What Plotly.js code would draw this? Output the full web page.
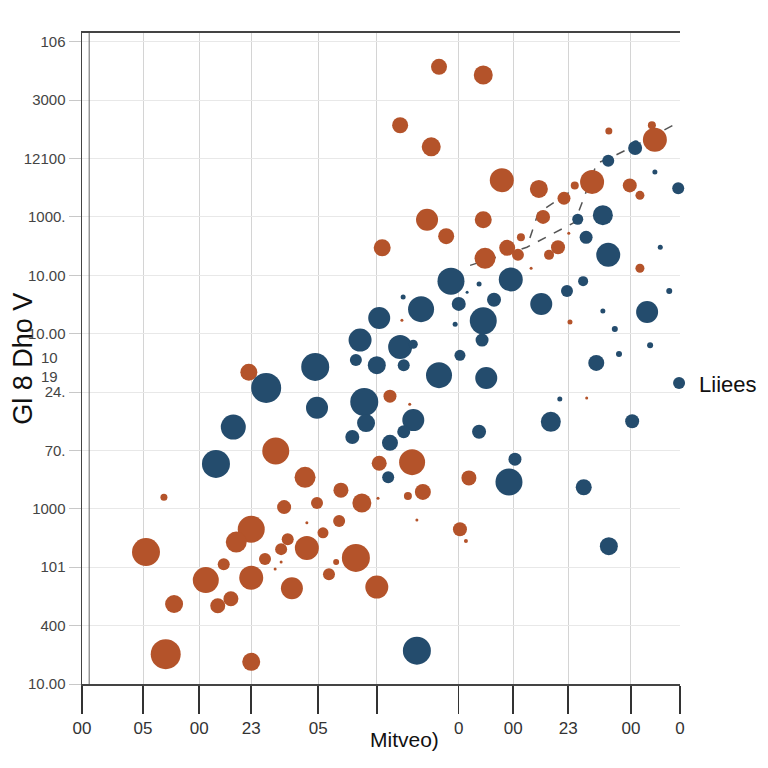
<!DOCTYPE html>
<html>
<head>
<meta charset="utf-8">
<script src="https://cdn.plot.ly/plotly-3.0.1.min.js"></script>
<style>
  body { margin: 0; background: #fff; }
  #chart { width: 768px; height: 768px; }
</style>
</head>
<body>
<div id="chart"></div>
<script>
// bubble chart, two groups + dashed trend

// orange group
var orangeX = [59.7, 67.1, 53.2, 58.4, 70.2, 76.4, 85.3, 95.8, 95.3, 88.1, 91.6, 93.3, 82.4, 77.1, 73.4, 71.1, 72.9, 78.1, 75.1, 81.6,
               93.3, 84.4, 57.7, 67.1, 60.9, 50.2, 67.4, 53.5, 27.9, 51.5, 54.8, 32.4, 37.3, 49.7, 55.2, 43.3, 39.3, 33.8, 46.8, 13.7,
               54.5, 57.0, 64.7, 49.5, 56.0, 37.6, 43.0, 28.3, 25.8, 34.4, 33.3, 40.3, 37.6, 45.8, 63.2, 64.2, 10.7, 23.7, 30.6, 33.3,
               32.3, 42.5, 20.7, 28.3, 41.3, 35.1, 49.3, 15.4, 24.9, 22.7, 14.0, 28.3, 80.6, 79.6, 81.4];
var orangeY = [10.57, 10.43, 9.57, 9.20, 8.63, 8.48, 8.60, 9.32, 9.57, 9.47, 8.54, 8.37, 8.54, 8.00, 7.65, 7.47, 7.35, 7.35, 7.12, 6.20,
               7.12, 4.90, 7.95, 7.95, 7.67, 7.47, 7.29, 6.23, 5.34, 4.93, 4.79, 3.99, 3.54, 3.78, 3.80, 3.32, 3.10, 3.03, 3.10, 3.20,
               3.22, 3.29, 3.53, 3.18, 2.81, 2.76, 2.79, 2.65, 2.43, 2.48, 2.31, 2.59, 2.33, 2.16, 2.65, 2.45, 2.26, 2.05, 2.14, 2.09,
               1.97, 2.09, 1.78, 1.82, 1.88, 1.64, 1.66, 1.37, 1.46, 1.34, 0.51, 0.38, 8.32, 7.48, 7.72];
var orangeSize = [16, 19, 16, 19, 24, 18, 24, 24, 8, 7, 14, 9, 8, 14, 8, 16, 12, 10, 3, 5,
                  9, 3, 22, 17, 16, 17, 21, 3, 17, 13, 3, 27, 21, 15, 26, 15, 12, 14, 19, 7,
                  8, 16, 15, 3, 3, 3, 12, 27, 21, 12, 12, 11, 24, 28, 14, 4, 28, 12, 12, 3,
                  3, 6, 26, 24, 12, 22, 23, 18, 15, 15, 30, 18, 13, 14, 3];

// navy group
var navyX = [100.5, 92.5, 92.6, 104.7, 101.3, 95.8, 99.7, 88.0, 87.1, 82.9, 84.3, 88.0, 96.7, 71.7, 76.8, 83.8, 81.1, 98.2, 87.1, 94.5,
             89.1, 95.0, 89.8, 86.0, 79.9, 78.4, 92.0, 66.4, 72.4, 71.4, 83.9, 88.1, 56.0, 39.0, 30.8, 25.3, 22.4, 39.3, 47.2, 47.5,
             45.2, 51.5, 51.2, 55.4, 53.8, 45.8, 49.3, 53.8, 59.7, 67.6, 63.2, 53.2, 61.7, 66.4, 64.4, 63.0, 67.1, 66.9, 56.7, 53.7,
             49.7, 46.5, 55.4, 62.4, 68.9];
var navyY = [9.64, 9.18, 9.26, 8.82, 8.89, 8.77, 8.49, 8.96, 8.03, 7.96, 7.65, 7.35, 7.48, 6.93, 6.51, 6.90, 6.73, 6.73, 6.39, 6.37,
             6.08, 5.80, 5.65, 5.50, 4.88, 4.49, 4.50, 4.32, 3.85, 3.46, 3.37, 2.36, 0.57, 5.43, 5.07, 4.40, 3.77, 4.73, 4.83, 4.47,
             4.23, 4.13, 3.54, 4.52, 4.32, 5.55, 5.46, 5.46, 5.29, 5.24, 5.63, 5.77, 6.90, 6.85, 6.71, 6.51, 6.22, 5.89, 6.42, 6.63,
             6.27, 5.89, 5.82, 6.16, 6.58];
var navySize = [15, 14, 6, 28, 10, 5, 12, 12, 20, 11, 13, 24, 5, 24, 22, 10, 12, 6, 5, 22,
                6, 6, 6, 16, 5, 20, 14, 14, 13, 27, 16, 18, 28, 28, 30, 25, 28, 22, 28, 18,
                14, 16, 12, 22, 13, 12, 18, 12, 26, 22, 11, 24, 27, 5, 3, 14, 27, 13, 26, 5,
                22, 23, 9, 5, 14];

// dashed trend (null splits the two pieces)
var trendX = [64.9, 68.7, 74.4, 82.4, 84.1, 86.1, 88.3, 92.6, 100.5, null, 74.9, 76.3, 81.9];
var trendY = [7.17, 7.29, 7.48, 7.91, 8.37, 8.92, 9.01, 9.23, 9.66, null, 7.64, 8.07, 8.45];

var xTickVals = [0, 10.2, 19.6, 28.3, 39.5, 49.3, 63.0, 72.1, 81.3, 91.8, 100];
var xTickText = ['00', '05', '00', '23', '05', '', '0', '00', '23', '00', '0'];
var yTickVals = [0, 1, 2, 3, 4, 5, 6, 7, 8, 9, 10, 11];
var yTickText = ['10.00', '400', '101', '1000', '70.', '24.', '10.00', '10.00', '1000.', '12100', '3000', '106'];

var orange = '#b4532a';
var navy = '#244c6d';

var traces = [
  {
    x: trendX, y: trendY, type: 'scatter', mode: 'lines',
    line: {color: '#555', width: 1.5, dash: 'dash'},
    showlegend: false, hoverinfo: 'skip', cliponaxis: false
  },
  {
    x: orangeX, y: orangeY, type: 'scatter', mode: 'markers',
    marker: {color: orange, size: orangeSize, sizemode: 'diameter', opacity: 1, line: {width: 0}},
    showlegend: false, cliponaxis: false
  },
  {
    x: navyX, y: navyY, type: 'scatter', mode: 'markers', name: 'Liiees',
    marker: {color: navy, size: navySize, sizemode: 'diameter', opacity: 1, line: {width: 0}},
    cliponaxis: false
  }
];

var layout = {
  width: 768, height: 768,
  margin: {l: 82, r: 88, t: 33, b: 84, autoexpand: false},
  paper_bgcolor: '#fff', plot_bgcolor: '#fff',
  font: {family: 'Liberation Sans, Arial, sans-serif', color: '#333'},
  showlegend: true,
  legend: {
    x: 0.965, y: 0.462, xanchor: 'left', yanchor: 'middle',
    bgcolor: 'rgba(0,0,0,0)', itemsizing: 'constant',
    font: {size: 22, color: '#111'}
  },
  xaxis: {
    range: [0, 100], tickmode: 'array', tickvals: xTickVals, ticktext: xTickText,
    showgrid: true, gridcolor: '#d4d4d4', gridwidth: 1,
    zeroline: false, showline: true, linecolor: '#444', linewidth: 2, mirror: true,
    ticks: 'outside', ticklen: 28, tickcolor: '#333', tickwidth: 1.5,
    tickfont: {size: 17, color: '#333'}
  },
  yaxis: {
    range: [0, 11.15], tickmode: 'array', tickvals: yTickVals, ticktext: yTickText,
    showgrid: true, gridcolor: '#e8e8e8', gridwidth: 1,
    zeroline: false, showline: true, linecolor: '#444', linewidth: 1.5,
    ticks: 'outside', ticklen: 12, tickcolor: '#c8c8c8',
    tickfont: {size: 15, color: '#444'}
  },
  shapes: [
    {type: 'line', xref: 'paper', yref: 'paper', x0: 0.012, x1: 0.012, y0: 0, y1: 1,
     line: {color: '#666', width: 1}}
  ],
  annotations: [
    {text: 'Gl 8 Dho V', xref: 'paper', yref: 'paper', x: -0.1, y: 0.5, xanchor: 'center', yanchor: 'middle',
     showarrow: false, textangle: -90, font: {size: 27, color: '#111'}},
    {text: 'Mitveo)', xref: 'paper', yref: 'paper', x: 0.54, y: -0.086, xanchor: 'center', yanchor: 'middle',
     showarrow: false, font: {size: 21, color: '#111'}},
    {text: '10', xref: 'paper', yref: 'paper', x: -0.054, y: 0.501, xanchor: 'center', yanchor: 'middle',
     showarrow: false, font: {size: 15, color: '#444'}},
    {text: '19', xref: 'paper', yref: 'paper', x: -0.054, y: 0.473, xanchor: 'center', yanchor: 'middle',
     showarrow: false, font: {size: 15, color: '#444'}}
  ]
};

Plotly.newPlot('chart', traces, layout, {displayModeBar: false, staticPlot: true});
</script>
</body>
</html>
